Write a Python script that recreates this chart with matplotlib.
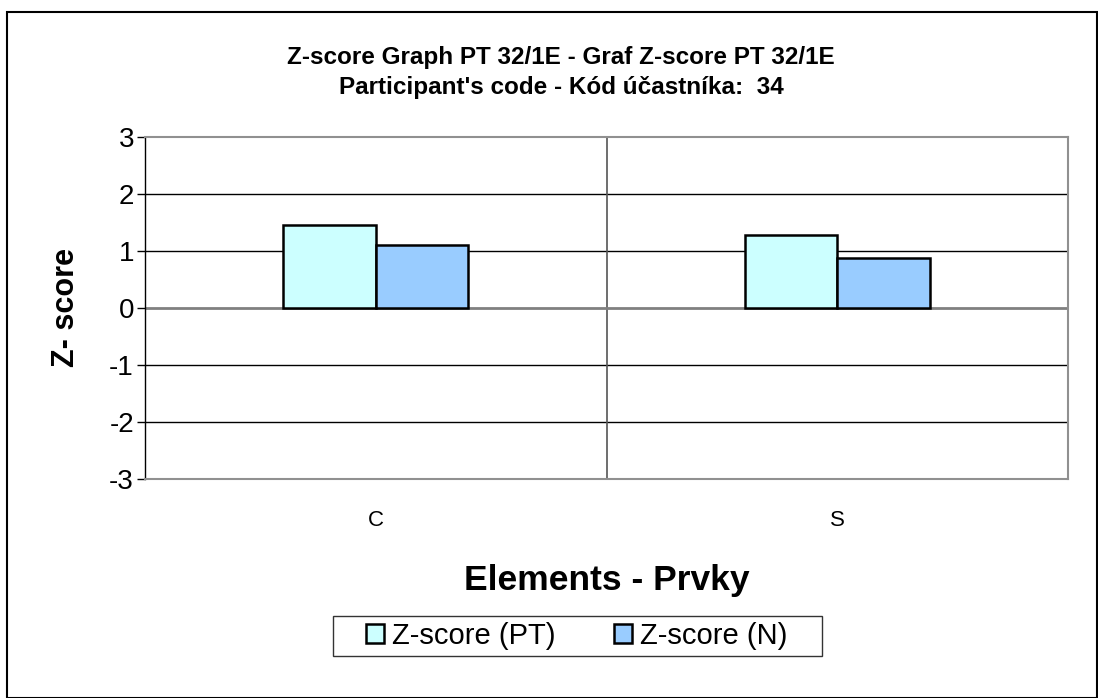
import matplotlib
matplotlib.use("Agg")
import matplotlib.pyplot as plt
import numpy as np
from matplotlib.patches import Rectangle

plt.rcParams['font.family'] = ['Liberation Sans', 'DejaVu Sans']
plt.rcParams['axes.unicode_minus'] = False

elements = ["C", "S"]
z_pt = [1.46, 1.28]
z_n = [1.11, 0.87]
series_names = ["Z-score (PT)", "Z-score (N)"]
series_colors = ["#ccffff", "#99ccff"]

W, H = 1098, 698
fig = plt.figure(figsize=(W / 100, H / 100), dpi=100)
fig.patches.append(Rectangle((0.0065, 0.0), 0.9925, 0.983, transform=fig.transFigure,
                             fill=False, edgecolor="black", linewidth=1.5))

ax = fig.add_axes([0.1321, 0.3138, 0.8406, 0.4900])
x = np.arange(len(elements))
w = 0.2
ax.bar(x - w / 2, z_pt, w, color=series_colors[0], edgecolor="black", linewidth=1.8,
       label=series_names[0], zorder=3)
ax.bar(x + w / 2, z_n, w, color=series_colors[1], edgecolor="black", linewidth=1.8,
       label=series_names[1], zorder=3)

ax.set_xlim(-0.5, len(elements) - 0.5)
ax.set_ylim(-3, 3)
ax.set_yticks(range(-3, 4))
ax.tick_params(axis="y", labelsize=20, length=6, width=1, direction="out", pad=2)
ax.set_xticks(x)
ax.set_xticklabels(elements, fontsize=16)
ax.tick_params(axis="x", length=0, pad=22)

# horizontal gridlines and category divider
for yv in [-2, -1, 1, 2]:
    ax.axhline(yv, color="black", linewidth=1, zorder=1)
ax.axhline(0, color="#808080", linewidth=2, zorder=2)
ax.axvline(0.5, color="#555555", linewidth=1.2, zorder=1)

for side in ["top", "right", "bottom"]:
    ax.spines[side].set_color("#909090")
    ax.spines[side].set_linewidth(1.5)
ax.spines["left"].set_color("black")
ax.spines["left"].set_linewidth(1)

ax.set_ylabel("Z- score", fontsize=22, fontweight="bold", labelpad=20)
ax.set_xlabel("Elements - Prvky", fontsize=25.5, fontweight="bold", labelpad=24)

fig.text(0.511, 0.918, "Z-score Graph PT 32/1E - Graf Z-score PT 32/1E",
         ha="center", va="center", fontsize=17.5, fontweight="bold")
fig.text(0.511, 0.875, "Participant's code - Kód účastníka:  34",
         ha="center", va="center", fontsize=17.5, fontweight="bold")

# legend box drawn separately so it can be wider than tall padding allows
fig.patches.append(Rectangle((333 / W, 1 - 656 / H), 489 / W, 40 / H,
                             transform=fig.transFigure, fill=False,
                             edgecolor="#333333", linewidth=1))
leg = fig.legend(loc="center", bbox_to_anchor=(577 / W, 1 - 636 / H), ncol=2,
                 fontsize=21, frameon=False,
                 handlelength=0.62, handleheight=0.62, handletextpad=0.28,
                 columnspacing=2.0, borderpad=0.0)

fig.savefig("out.png", dpi=100)
